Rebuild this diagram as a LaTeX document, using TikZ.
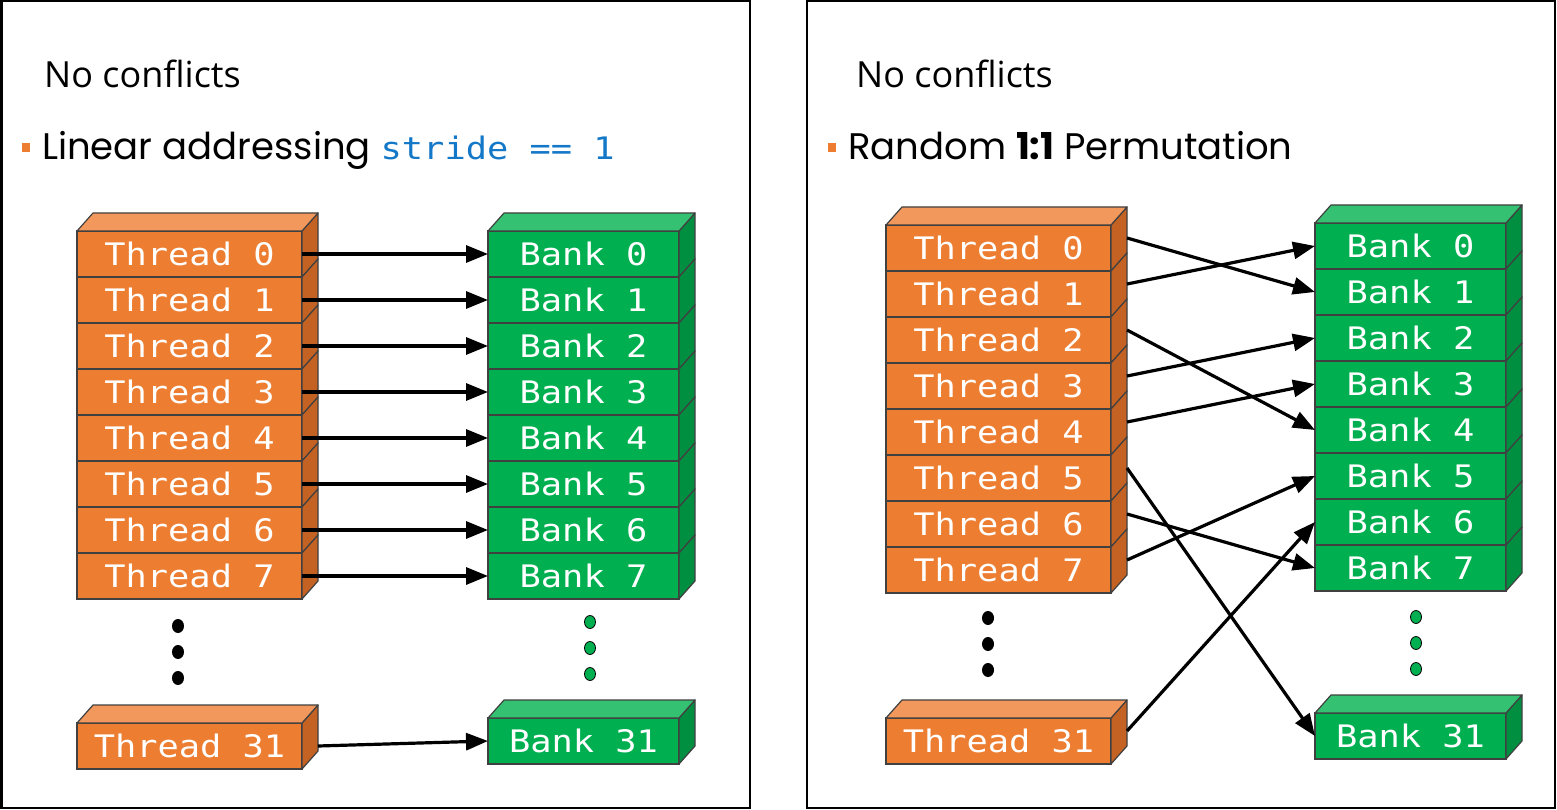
\documentclass[tikz,border=0pt]{standalone}
\usepackage{fontspec}
\setmainfont{Open Sans}
\newfontfamily\pointfont{Poppins}
\newfontfamily\codefont[FakeStretch=1.14]{DejaVu Sans Mono}
\usetikzlibrary{calc,positioning,arrows.meta}
\definecolor{thrfront}{RGB}{237,125,49}
\definecolor{thrtop}{RGB}{242,152,92}
\definecolor{thrside}{RGB}{196,98,36}
\definecolor{bnkfront}{RGB}{0,176,80}
\definecolor{bnktop}{RGB}{52,194,114}
\definecolor{bnkside}{RGB}{0,142,64}
\definecolor{codeblue}{RGB}{20,120,200}
\tikzset{
  >={Triangle[length=22pt,width=17pt]},
  thread/.style={
    rectangle,
    draw=black!75, line width=1.2pt,
    fill=thrfront,
    text=white,
    font=\codefont\fontsize{31}{31}\selectfont,
    minimum width=225pt,
    minimum height=46pt,
    inner sep=0pt, outer sep=0pt},
  bank/.style={thread, fill=bnkfront, minimum width=191pt},
  link/.style={draw, line width=3.2pt, ->},
  title/.style={anchor=base west, inner sep=0pt, font=\fontsize{36}{36}\selectfont},
  point/.style={anchor=base west, inner sep=0pt, font=\pointfont\fontsize{37}{37}\selectfont},
  frame/.style={draw, line width=2.5pt},
}
% depth faces of a box node
\newcommand{\boxside}[2]{%
  \filldraw[fill=#2, draw=black!75, line width=1.2pt, line join=round]
    (#1.north east) -- ++(16,-18) -- ($(#1.south east)+(16,-18)$)
    -- (#1.south east) -- cycle;}
\newcommand{\boxtop}[2]{%
  \filldraw[fill=#2, draw=black!75, line width=1.2pt, line join=round]
    (#1.north west) -- ++(16,-18) -- ($(#1.north east)+(16,-18)$)
    -- (#1.north east) -- cycle;}

\begin{document}
\begin{tikzpicture}[x=1pt, y=-1pt]
  \useasboundingbox (0,0) rectangle (1557,810);
  \fill[white] (0,0) rectangle (1557,810);

  % left panel: linear addressing
  \draw[frame] (1.25,1.25) rectangle (750,808);
  \node[title] (ltitle) at (44,88) {No conflicts};
  \fill[thrfront] (22,143) rectangle (30,152);
  \node[point] (lpoint) at (42,160) {Linear addressing {\codefont\fontsize{31}{31}\selectfont\color{codeblue}stride == 1}};

  \node[thread] (lt0) at (189.5,254) {Thread 0};
  \node[bank] (lb0) at (583.5,254) {Bank 0};
  \foreach \i [count=\j from 0] in {1,...,7} {
    \node[thread, below=0pt of lt\j] (lt\i) {Thread \i};
    \node[bank, below=0pt of lb\j] (lb\i) {Bank \i};
  }
  \node[thread] (lt31) at (189.5,746) {Thread 31};
  \node[bank] (lb31) at (583.5,741) {Bank 31};
  \foreach \i in {0,...,7,31} {
    \boxside{lt\i}{thrside}
    \boxside{lb\i}{bnkside}
  }
  \boxtop{lt0}{thrtop} \boxtop{lt31}{thrtop}
  \boxtop{lb0}{bnktop} \boxtop{lb31}{bnktop}

  \foreach \y in {626,652,678} {
    \fill (178,\y) ellipse (6 and 7);
    \filldraw[fill=bnkfront, line width=0.8pt] (590,\y-4) ellipse (5.5 and 6.5);
  }

  \foreach \i in {0,...,7}
    \draw[link] (lt\i.east) -- (lb\i.west);
  \draw[link] ([xshift=16pt]lt31.east) -- (lb31.west);

  % right panel: random permutation
  \draw[frame] (807,1.25) rectangle (1555,808);
  \node[title] (rtitle) at (856,88) {No conflicts};
  \fill[thrfront] (828,143) rectangle (836,152);
  \node[point] (rpoint) at (848,160) {Random {\bfseries 1:1} Permutation};

  \node[thread] (rt0) at (998.5,248) {Thread 0};
  \node[bank] (rb0) at (1410.5,246) {Bank 0};
  \foreach \i [count=\j from 0] in {1,...,7} {
    \node[thread, below=0pt of rt\j] (rt\i) {Thread \i};
    \node[bank, below=0pt of rb\j] (rb\i) {Bank \i};
  }
  \node[thread] (rt31) at (998.5,741) {Thread 31};
  \node[bank] (rb31) at (1410.5,736) {Bank 31};
  \foreach \i in {0,...,7,31} {
    \boxside{rt\i}{thrside}
    \boxside{rb\i}{bnkside}
  }
  \boxtop{rt0}{thrtop} \boxtop{rt31}{thrtop}
  \boxtop{rb0}{bnktop} \boxtop{rb31}{bnktop}

  \foreach \y in {618,644,670} {
    \fill (988,\y) ellipse (6 and 7);
    \filldraw[fill=bnkfront, line width=0.8pt] (1416,\y-1) ellipse (5.5 and 6.5);
  }

  \foreach \s/\t in {0/1,1/0,2/4,3/2,4/3,5/31,6/7,7/5,31/6}
    \draw[link] ([shift={(16,-10)}]rt\s.east) -- (rb\t.west);
\end{tikzpicture}
\end{document}
